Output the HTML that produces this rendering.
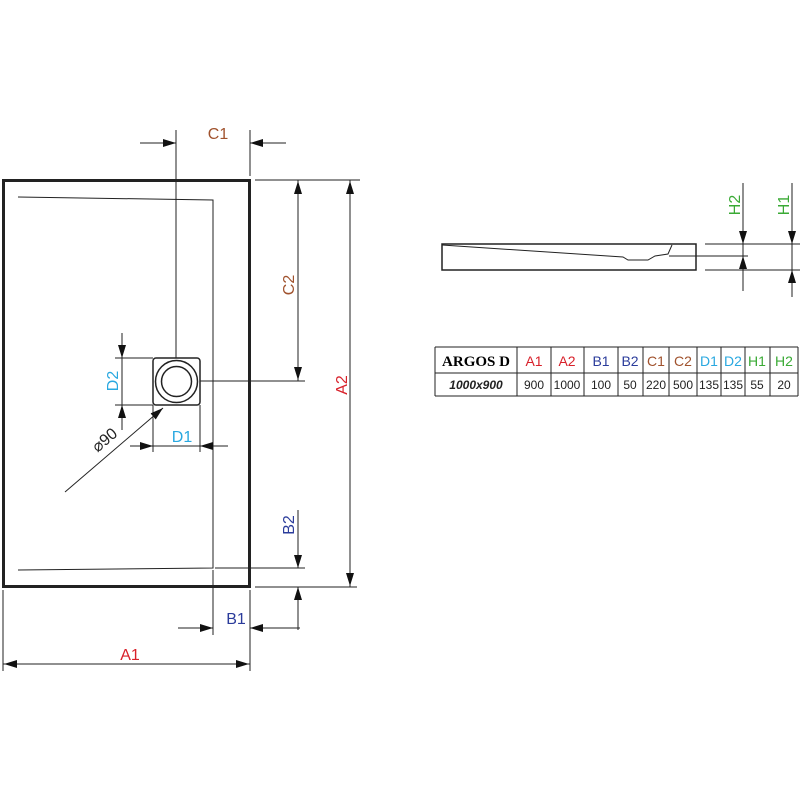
<!DOCTYPE html>
<html><head><style>body{margin:0;background:#fff}svg{display:block}text{font-family:"Liberation Sans",sans-serif}text.serif{font-family:"Liberation Serif",serif}</style></head><body>
<svg width="800" height="800" viewBox="0 0 800 800" xmlns="http://www.w3.org/2000/svg">
<defs><marker id="a" markerWidth="14" markerHeight="8" refX="13" refY="4" orient="auto" markerUnits="userSpaceOnUse"><path d="M0,0 L13,4 L0,8z" fill="#111"/></marker></defs>
<g stroke="#222" fill="none">
<rect x="3.5" y="180.5" width="246" height="406" stroke-width="3"/>
<path d="M18,197 L213,200 L213,568 L18,570" stroke-width="1"/>
<rect x="153" y="358" width="47" height="47" rx="3" stroke-width="1.5"/>
<circle cx="176.5" cy="381.5" r="21" stroke-width="1.5"/>
<circle cx="176.5" cy="381.5" r="15" stroke-width="1.5"/>
<g stroke-width="1">
<line x1="176" y1="130" x2="176" y2="358"/>
<line x1="250" y1="130" x2="250" y2="176"/>
<line x1="140" y1="143" x2="176" y2="143" marker-end="url(#a)"/>
<line x1="286" y1="143" x2="250" y2="143" marker-end="url(#a)"/>
<line x1="255" y1="180" x2="360" y2="180"/>
<line x1="200" y1="381" x2="305" y2="381"/>
<line x1="298" y1="180" x2="298" y2="381"/>
<line x1="298" y1="230" x2="298" y2="181" marker-end="url(#a)"/>
<line x1="298" y1="330" x2="298" y2="380" marker-end="url(#a)"/>
<line x1="255" y1="587" x2="357" y2="587"/>
<line x1="350" y1="180" x2="350" y2="587"/>
<line x1="350" y1="230" x2="350" y2="181" marker-end="url(#a)"/>
<line x1="350" y1="540" x2="350" y2="586" marker-end="url(#a)"/>
<line x1="215" y1="568" x2="305" y2="568"/>
<line x1="298" y1="510" x2="298" y2="568" marker-end="url(#a)"/>
<line x1="298" y1="630" x2="298" y2="587" marker-end="url(#a)"/>
<line x1="213" y1="570" x2="213" y2="635"/>
<line x1="250" y1="590" x2="250" y2="671"/>
<line x1="178" y1="628" x2="213" y2="628" marker-end="url(#a)"/>
<line x1="300" y1="628" x2="250" y2="628" marker-end="url(#a)"/>
<line x1="3" y1="590" x2="3" y2="671"/>
<line x1="3" y1="664" x2="250" y2="664"/>
<line x1="40" y1="664" x2="4" y2="664" marker-end="url(#a)"/>
<line x1="210" y1="664" x2="249" y2="664" marker-end="url(#a)"/>
<line x1="115" y1="358" x2="153" y2="358"/>
<line x1="115" y1="405" x2="153" y2="405"/>
<line x1="122" y1="333" x2="122" y2="358" marker-end="url(#a)"/>
<line x1="122" y1="430" x2="122" y2="405" marker-end="url(#a)"/>
<line x1="122" y1="358" x2="122" y2="405"/>
<line x1="153" y1="405" x2="153" y2="452"/>
<line x1="200" y1="405" x2="200" y2="452"/>
<line x1="130" y1="446" x2="153" y2="446" marker-end="url(#a)"/>
<line x1="228" y1="446" x2="200" y2="446" marker-end="url(#a)"/>
<line x1="153" y1="446" x2="200" y2="446"/>
<line x1="65" y1="492" x2="163" y2="408" marker-end="url(#a)"/>
<rect x="442" y="244" width="254" height="26" stroke-width="1.5"/>
<path d="M442,245 L623,257 L628,260 L648,260 L655,256 L668,254 L672,245"/>
<line x1="669" y1="256" x2="748" y2="256"/>
<line x1="705" y1="244" x2="800" y2="244"/>
<line x1="705" y1="270" x2="800" y2="270"/>
<line x1="743" y1="183" x2="743" y2="291"/>
<line x1="743" y1="222" x2="743" y2="244" marker-end="url(#a)"/>
<line x1="743" y1="280" x2="743" y2="256" marker-end="url(#a)"/>
<line x1="792" y1="183" x2="792" y2="297"/>
<line x1="792" y1="222" x2="792" y2="244" marker-end="url(#a)"/>
<line x1="792" y1="294" x2="792" y2="270" marker-end="url(#a)"/>
<path d="M435,347 H798 M435,373 H798 M435,396 H798 M435,347 V396 M517,347 V396 M551,347 V396 M584,347 V396 M618,347 V396 M643,347 V396 M669,347 V396 M697,347 V396 M721,347 V396 M745,347 V396 M770,347 V396 M798,347 V396" stroke-width="1"/>
</g>
</g>
<g font-size="16" text-anchor="middle">
<text x="218" y="139" fill="#a0522d">C1</text>
<text x="236" y="624" fill="#2b3c9b">B1</text>
<text x="130" y="660" fill="#d8202a">A1</text>
<text x="182" y="442" fill="#29a8e0">D1</text>
<text transform="translate(294,285) rotate(-90)" fill="#a0522d">C2</text>
<text transform="translate(347,385) rotate(-90)" fill="#d8202a">A2</text>
<text transform="translate(294,525) rotate(-90)" fill="#2b3c9b">B2</text>
<text transform="translate(118,381) rotate(-90)" fill="#29a8e0">D2</text>
<text transform="translate(108,444) rotate(-40)" fill="#222">⌀90</text>
<text transform="translate(740,205) rotate(-90)" fill="#3aaa35">H2</text>
<text transform="translate(789,205) rotate(-90)" fill="#3aaa35">H1</text>
</g>
<g font-size="14" text-anchor="middle">
<text class="serif" x="476" y="366" font-weight="bold" font-size="15">ARGOS D</text>
<text x="534" y="366" fill="#d8202a">A1</text>
<text x="567" y="366" fill="#d8202a">A2</text>
<text x="601" y="366" fill="#2b3c9b">B1</text>
<text x="630" y="366" fill="#2b3c9b">B2</text>
<text x="656" y="366" fill="#a0522d">C1</text>
<text x="683" y="366" fill="#a0522d">C2</text>
<text x="709" y="366" fill="#29a8e0">D1</text>
<text x="733" y="366" fill="#29a8e0">D2</text>
<text x="757" y="366" fill="#3aaa35">H1</text>
<text x="784" y="366" fill="#3aaa35">H2</text>
</g>
<g font-size="12" text-anchor="middle" fill="#222">
<text x="476" y="389" font-weight="bold" font-style="italic">1000x900</text>
<text x="534" y="389">900</text><text x="567" y="389">1000</text><text x="601" y="389">100</text><text x="630" y="389">50</text><text x="656" y="389">220</text><text x="683" y="389">500</text><text x="709" y="389">135</text><text x="733" y="389">135</text><text x="757" y="389">55</text><text x="784" y="389">20</text>
</g>
</svg>
</body></html>
